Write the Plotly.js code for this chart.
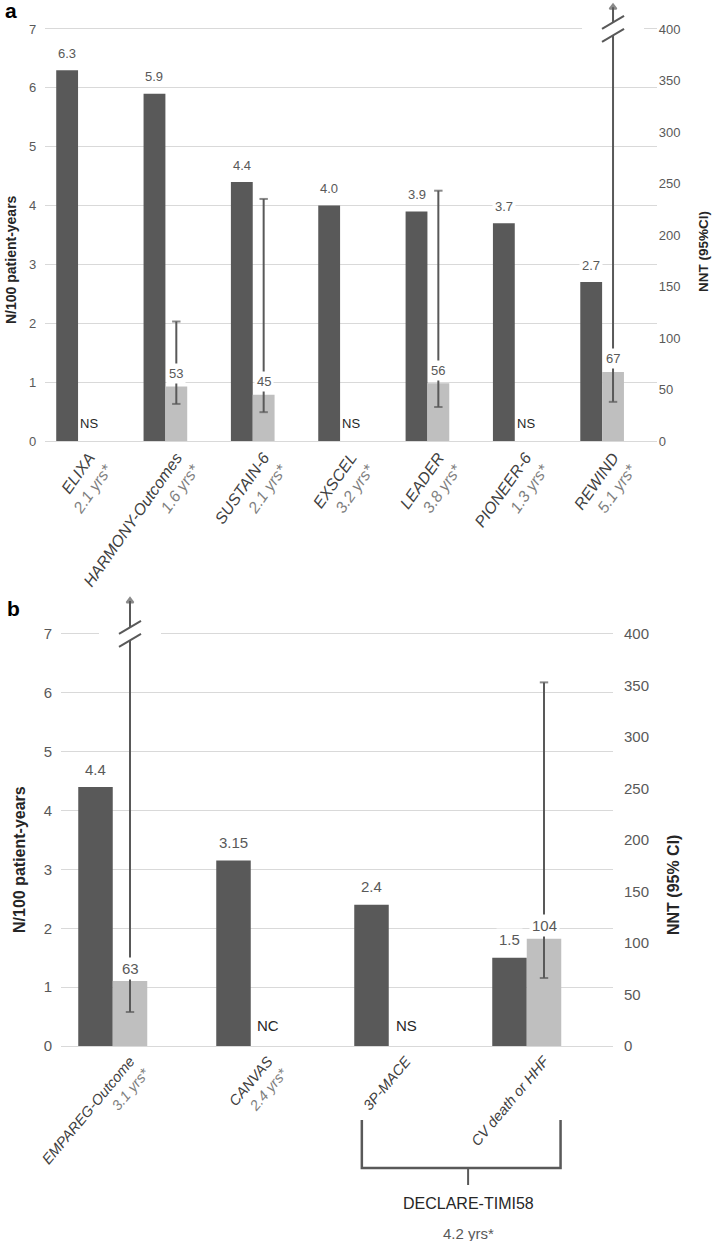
<!DOCTYPE html>
<html>
<head>
<meta charset="utf-8">
<script src="https://cdn.plot.ly/plotly-3.0.1.min.js"></script>
<style>html,body{margin:0;padding:0;background:#fff;}#chart{width:713px;height:1241px;}</style>
</head>
<body>
<div id="chart"></div>
<script>
// ---------- Panel a: GLP-1 RA trials ----------
const trialsA   = ['ELIXA', 'HARMONY-Outcomes', 'SUSTAIN-6', 'EXSCEL', 'LEADER', 'PIONEER-6', 'REWIND'];
const yearsA    = ['2.1 yrs*', '1.6 yrs*', '2.1 yrs*', '3.2 yrs*', '3.8 yrs*', '1.3 yrs*', '5.1 yrs*'];
const rateA     = [6.3, 5.9, 4.4, 4.0, 3.9, 3.7, 2.7];          // N/100 patient-years
const nntA      = [null, 53, 45, null, 56, null, 67];           // NNT
const nntNoteA  = ['NS', null, null, 'NS', null, 'NS', null];
const ciLowA    = [null, 36, 28, null, 33, null, 38];
const ciHighA   = [null, 116, 235, null, 243, null, Infinity]; // Infinity = open-ended (arrow)

// ---------- Panel b: SGLT2i trials ----------
const trialsB   = ['EMPAREG-Outcome', 'CANVAS', '3P-MACE', 'CV death or HHF'];
const yearsB    = ['3.1 yrs*', '2.4 yrs*', '', ''];
const rateB     = [4.4, 3.15, 2.4, 1.5];
const nntB      = [63, null, null, 104];
const nntNoteB  = [null, 'NC', 'NS', null];
const ciLowB    = [33, null, null, 66];
const ciHighB   = [Infinity, null, null, 353];
const groupNameB  = 'DECLARE-TIMI58';
const groupYearsB = '4.2 yrs*';

// ---------- styling constants ----------
const W = 713, H = 1241;
const DARK = '#595959', LIGHT = '#bfbfbf', GRID = '#d9d9d9', TXT = '#595959';
const NARROW = '"Liberation Sans Narrow", "Arial Narrow", "Liberation Sans", Arial, sans-serif';
const SANS = '"Liberation Sans", Arial, sans-serif';
const BW = 0.25;             // bar width in category units
const BREAK_LEFT = 7;        // axis break level on the left scale (= 400 NNT)
const px = (x) => x / W, py = (y) => 1 - y / H;

function tickText(names, years) {
  return names.map((n, i) => years[i]
    ? '<i>' + n + '</i><br><i><span style="color:#7f7f7f">' + years[i] + '</span></i>'
    : '<i>' + n + '</i>');
}

function panel(cfg) {
  const {names, rate, nnt, notes, lo, hi, xa, ya, ya2, arrowNNT,
         fs, darkShift, lightShift, noteShift, rateFmt} = cfg;
  const traces = [];
  traces.push({
    type: 'bar', x: names, y: rate, xaxis: xa, yaxis: ya,
    width: BW, offset: -1.5 * BW, marker: {color: DARK},
    hoverinfo: 'skip', showlegend: false
  });
  traces.push({
    type: 'bar', x: names, y: nnt, xaxis: xa, yaxis: ya2,
    width: BW, offset: -0.5 * BW, marker: {color: LIGHT},
    hoverinfo: 'skip', showlegend: false
  });
  // confidence intervals
  const ex = [], ey = [], sym = [], sz = [];
  names.forEach((n, i) => {
    if (nnt[i] == null) return;
    const open = !isFinite(hi[i]);
    ex.push(n, n, null);
    ey.push(lo[i], open ? arrowNNT : hi[i], null);
    sym.push('line-ew', open ? 'triangle-up' : 'line-ew', 'line-ew');
    sz.push(6, 6, 0);
  });
  traces.push({
    type: 'scatter', mode: 'lines+markers', x: ex, y: ey, xaxis: xa, yaxis: ya2,
    line: {color: DARK, width: 2}, connectgaps: false, cliponaxis: false,
    marker: {symbol: sym, size: sz, color: DARK, line: {color: DARK, width: 2}},
    hoverinfo: 'skip', showlegend: false
  });

  const ann = [], shapes = [];
  names.forEach((n, i) => {
    ann.push({xref: xa, yref: ya, x: i - BW, y: rate[i], text: rateFmt(rate[i]),
      showarrow: false, xanchor: 'center', yanchor: 'middle', yshift: darkShift,
      bgcolor: '#fff', borderpad: 2, font: {family: NARROW, size: fs, color: TXT}});
    if (nnt[i] != null) {
      ann.push({xref: xa, yref: ya2, x: i, y: nnt[i], text: String(nnt[i]),
        showarrow: false, xanchor: 'center', yanchor: 'middle', yshift: lightShift,
        bgcolor: '#fff', borderpad: 2, font: {family: NARROW, size: fs, color: TXT}});
    }
    if (notes[i]) {
      ann.push({xref: xa, yref: ya2, x: i, y: 0, text: notes[i],
        showarrow: false, xanchor: 'center', yanchor: 'middle', yshift: noteShift,
        font: {family: NARROW, size: fs, color: '#262626'}});
    }
    if (nnt[i] != null && !isFinite(hi[i])) {
      // gap in the top gridline (above grid, below traces)
      shapes.push({type: 'rect', layer: 'between', xref: xa, yref: ya,
        xsizemode: 'pixel', ysizemode: 'pixel', xanchor: i, yanchor: BREAK_LEFT,
        x0: -31, x1: 31, y0: -2, y1: 2, fillcolor: '#fff', line: {width: 0}});
      // white gap between slashes
      shapes.push({type: 'path', layer: 'above', xref: xa, yref: ya,
        xsizemode: 'pixel', ysizemode: 'pixel', xanchor: i, yanchor: BREAK_LEFT,
        path: 'M -11,-13 L 11,0 L 11,13 L -11,0 Z', fillcolor: '#fff', line: {width: 0}});
      [[0, 13], [-13, 0]].forEach(([a, b]) => {
        shapes.push({type: 'line', layer: 'above', xref: xa, yref: ya,
          xsizemode: 'pixel', ysizemode: 'pixel', xanchor: i, yanchor: BREAK_LEFT,
          x0: -11, y0: a, x1: 11, y1: b, line: {color: DARK, width: 2}});
      });
    }
  });
  return {traces, ann, shapes};
}

const A = panel({names: trialsA, rate: rateA, nnt: nntA, notes: nntNoteA,
  lo: ciLowA, hi: ciHighA, xa: 'x', ya: 'y', ya2: 'y2', arrowNNT: 421,
  fs: 13, darkShift: 17, lightShift: 13, noteShift: 18, rateFmt: v => v.toFixed(1)});
const B = panel({names: trialsB, rate: rateB, nnt: nntB, notes: nntNoteB,
  lo: ciLowB, hi: ciHighB, xa: 'x2', ya: 'y3', ya2: 'y4', arrowNNT: 432,
  fs: 15, darkShift: 18, lightShift: 13, noteShift: 21, rateFmt: v => String(v)});

const leftTicks = [0, 1, 2, 3, 4, 5, 6, 7];
const rightTicks = [0, 50, 100, 150, 200, 250, 300, 350, 400];

function yAxisL(domain, top, xa, size) {
  return {domain, range: [0, top], anchor: xa, tickvals: leftTicks, showgrid: true,
    gridcolor: GRID, gridwidth: 1, zeroline: false, showline: false, ticks: '',
    ticklabelstandoff: 8, tickfont: {family: NARROW, size, color: TXT}, fixedrange: true};
}
function yAxisR(over, top, xa, size, standoff) {
  return {overlaying: over, side: 'right', range: [0, top * 400 / 7], anchor: xa,
    tickvals: rightTicks, showgrid: false, zeroline: false, showline: false, ticks: '',
    ticklabelstandoff: standoff, tickfont: {family: NARROW, size, color: TXT}, fixedrange: true};
}
function xAxis(domain, ya, names, years, n, size, angle) {
  return {domain, anchor: ya, type: 'category', range: [-0.5, n - 0.5],
    tickvals: names, ticktext: tickText(names, years), tickangle: angle,
    showline: true, linecolor: GRID, linewidth: 1, showgrid: false, ticks: '',
    tickfont: {family: SANS, size, color: '#404040'}, fixedrange: true};
}

const C = {xanchor: 'center', yanchor: 'middle', showarrow: false};
const titleAnn = [
  {...C, xref: 'paper', yref: 'paper', x: px(11), y: py(10), text: '<b>a</b>',
   font: {family: SANS, size: 21, color: '#000'}},
  {...C, xref: 'paper', yref: 'paper', x: px(13), y: py(608), text: '<b>b</b>',
   font: {family: SANS, size: 21, color: '#000'}},
  {...C, xref: 'paper', yref: 'paper', x: px(11), y: py(260), text: '<b>N/100 patient-years</b>',
   textangle: -90, font: {family: SANS, size: 14, color: '#262626'}},
  {...C, xref: 'paper', yref: 'paper', x: px(703), y: py(252), text: '<b>NNT (95%CI)</b>',
   textangle: -90, font: {family: SANS, size: 13.5, color: '#262626'}},
  {...C, xref: 'paper', yref: 'paper', x: px(19), y: py(860), text: '<b>N/100 patient-years</b>',
   textangle: -90, font: {family: SANS, size: 16, color: '#262626'}},
  {...C, xref: 'paper', yref: 'paper', x: px(673), y: py(885), text: '<b>NNT (95% CI)</b>',
   textangle: -90, font: {family: SANS, size: 16, color: '#262626'}},
  {...C, xref: 'x2', yref: 'paper', x: 2.45, y: py(1203), text: groupNameB,
   font: {family: NARROW, size: 16, color: '#262626'}},
  {...C, xref: 'x2', yref: 'paper', x: 2.45, y: py(1233), text: groupYearsB,
   font: {family: NARROW, size: 15, color: '#595959'}}
];

const bracket = [
  {type: 'path', xref: 'x2', yref: 'paper', layer: 'above',
   path: 'M 1.68,' + py(1120) + ' L 1.68,' + py(1168) + ' L 3.12,' + py(1168) + ' L 3.12,' + py(1120),
   line: {color: DARK, width: 2.5}},
  {type: 'line', xref: 'x2', yref: 'paper', x0: 2.45, x1: 2.45, y0: py(1168), y1: py(1185),
   line: {color: DARK, width: 2}}
];

const layout = {
  width: W, height: H, margin: {l: 0, r: 0, t: 0, b: 0},
  paper_bgcolor: '#fff', plot_bgcolor: 'rgba(0,0,0,0)', showlegend: false, barmode: 'overlay',
  xaxis: xAxis([px(45.3), px(656.7)], 'y', trialsA, yearsA, trialsA.length, 16, -55),
  yaxis: yAxisL([py(441), py(1.9)], 7.46, 'x', 13),
  yaxis2: yAxisR('y', 7.46, 'x', 13, 1),
  xaxis2: xAxis([px(61), px(613)], 'y3', trialsB, yearsB, trialsB.length, 14.5, -50),
  yaxis3: yAxisL([py(1046), py(595.7)], 7.65, 'x2', 15),
  yaxis4: yAxisR('y3', 7.65, 'x2', 15, 10),
  annotations: [...A.ann, ...B.ann, ...titleAnn],
  shapes: [...A.shapes, ...B.shapes, ...bracket]
};

Plotly.newPlot('chart', [...A.traces, ...B.traces], layout, {displayModeBar: false, staticPlot: true});
</script>
</body>
</html>
